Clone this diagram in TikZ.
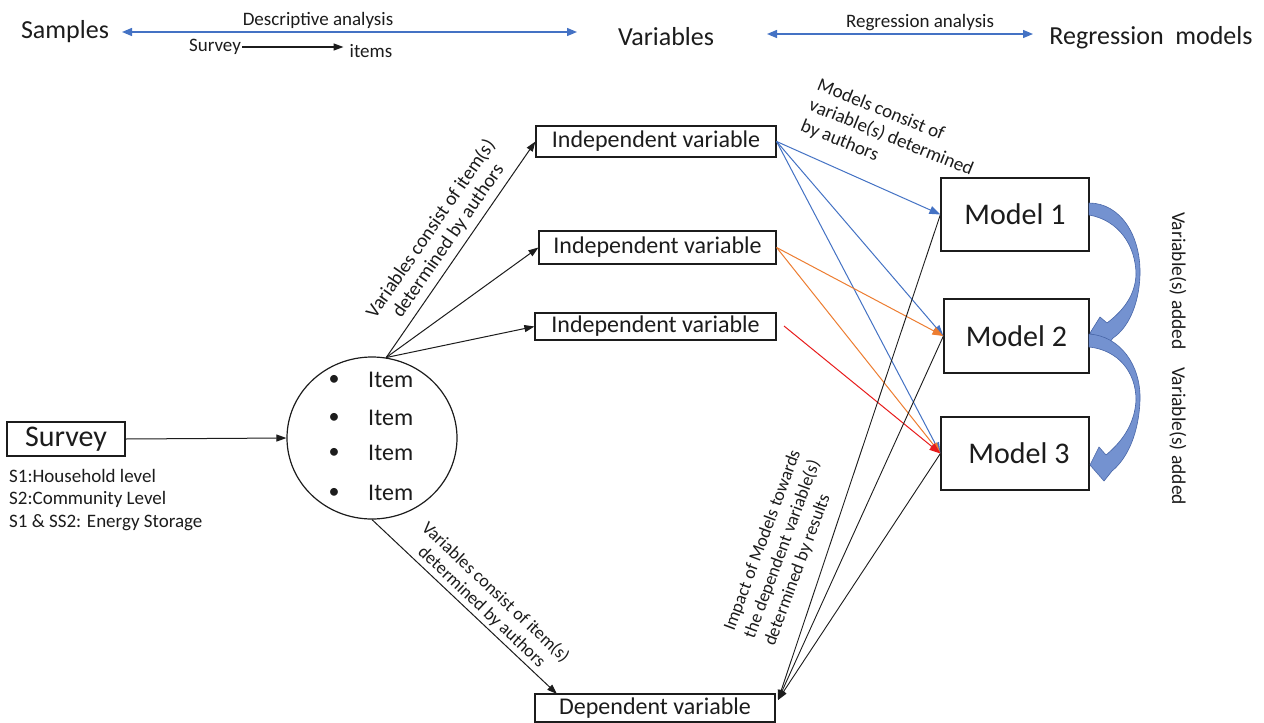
\documentclass[tikz,border=0pt]{standalone}
\usepackage{fontspec}
\setmainfont{Carlito}
\usetikzlibrary{arrows.meta,shapes.geometric}

\definecolor{ink}{RGB}{28,28,28}
\definecolor{lnblue}{RGB}{68,114,196}
\definecolor{lnorange}{RGB}{237,125,49}
\definecolor{lnred}{RGB}{232,28,28}
\definecolor{bandfill}{RGB}{116,146,208}
\definecolor{bandedge}{RGB}{72,102,168}

\tikzset{
  title/.style={text=ink, font=\fontsize{26}{30}\selectfont, inner sep=2pt},
  small/.style={text=ink, font=\fontsize{19}{22}\selectfont, inner sep=1pt},
  varbox/.style={draw=ink, line width=1.2pt, text=ink, inner sep=0pt,
                 font=\fontsize{24}{28}\selectfont},
  modelbox/.style={draw=ink, line width=1.2pt, text=ink, inner sep=0pt,
                 minimum width=148pt, minimum height=73pt,
                 font=\fontsize{30}{34}\selectfont},
  note/.style={text=ink, align=center, inner sep=1pt},
  arr/.style={draw=ink, line width=1pt, -{Triangle[length=10pt,width=7pt]}},
  carr/.style={line width=1pt, -{Triangle[length=11pt,width=8pt]}},
  topdbl/.style={draw=lnblue, line width=1.3pt,
                 {Triangle[length=10pt,width=8pt]}-{Triangle[length=10pt,width=8pt]}},
  band/.style={fill=bandfill, draw=bandedge, line width=0.6pt, line join=round},
}

\begin{document}
\begin{tikzpicture}[x=1pt,y=-1pt]
\useasboundingbox (0,0) rectangle (1264,723);
\fill[white] (0,0) rectangle (1264,723);

% ---- header row ----
\node[title] (samples) at (65,32) {Samples};
\node[title] (variables) at (666,37) {Variables};
\node[title] (regmodels) at (1151,38) {Regression\hspace{0.45em}models};
\coordinate (da1) at (122,32);
\coordinate (da2) at (577,32);
\coordinate (ra1) at (767,34);
\coordinate (ra2) at (1033,34);
\draw[topdbl] (da1) -- (da2);
\draw[topdbl] (ra1) -- (ra2);
\node[small] (desc) at (318,20) {Descriptive analysis};
\node[small] (regan) at (920,23) {Regression analysis};
\node[small] (svsmall) at (215,47) {Survey};
\node[small] (itsmall) at (371,51) {items};
\draw[arr, line width=1.3pt] (svsmall.east) -- ([xshift=-5pt]svsmall.east -| itsmall.west);

% ---- survey and items ----
\node[draw=ink, line width=1.2pt, text=ink, inner sep=0pt,
      minimum width=118pt, minimum height=34pt,
      font=\fontsize{30}{34}\selectfont] (survey) at (66,439) {Survey};
\node[anchor=west, align=left, text=ink, inner sep=0pt,
      font=\fontsize{19}{22.5}\selectfont] (levels) at (9,500)
      {S1:Household level\\S2:Community Level\\S1 \& SS2: Energy Storage};

\node[draw=ink, line width=1.2pt, ellipse, minimum width=170pt,
      minimum height=162pt, inner sep=0pt] (items) at (372,438) {};
\foreach \yy/\nn in {380/1,418/2,453/3,493/4}{
  \node[text=ink, inner sep=0pt, font=\fontsize{22}{24}\selectfont] (bul\nn) at (334,\yy) {\textbullet};
  \node[anchor=west, text=ink, inner sep=0pt, font=\fontsize{24}{28}\selectfont] (itm\nn) at (368,\yy) {Item};
}
\draw[arr] (survey.east) -- (items.west);

% ---- variables ----
\node[varbox, minimum width=240pt, minimum height=31pt] (iv1) at (656,141.5) {Independent variable};
\node[varbox, minimum width=237pt, minimum height=33pt] (iv2) at (657.5,247.5) {Independent variable};
\node[varbox, minimum width=241pt, minimum height=27pt] (iv3) at (655.5,326.5) {Independent variable};
\node[varbox, minimum width=240pt, minimum height=28pt] (dep) at (655,708) {Dependent variable};

\draw[arr] (items.80) -- node[note, sloped, above=5pt, font=\fontsize{19.5}{21}\selectfont]
  {Variables consist of item(s)\\determined by authors} (iv1.west);
\draw[arr] (items.80) -- (iv2.west);
\draw[arr] (items.80) -- (iv3.west);

\coordinate (deptop) at (557,694);
\draw[arr] (items.south) -- node[note, sloped, above=2pt, pos=0.55, font=\fontsize{18}{20}\selectfont]
  {Variables consist of item(s)\\determined by authors} (deptop);

% ---- models ----
\node[modelbox] (m1) at (1015,214.5) {Model 1};
\node[modelbox, minimum width=145pt, minimum height=74pt] (m2) at (1016.5,336) {Model 2};
\node[modelbox] (m3) at (1015,453.5) {\hspace{8pt}Model 3};

\draw[carr, lnblue] (iv1.east) -- (m1.west);
\draw[carr, lnblue] (iv1.east) -- (m2.west);
\draw[carr, lnblue] (iv1.east) -- (m3.west);
\draw[carr, lnorange] (iv2.east) -- (m2.west);
\draw[carr, lnorange] (iv2.east) -- (m3.west);
\coordinate (redstart) at (784,326);
\draw[carr, lnred] (redstart) -- (m3.west);

\coordinate (depin) at (778,700);
\draw[arr, line width=0.9pt] (m1.west) -- (depin);
\draw[arr, line width=0.9pt] (m2.west) -- (depin);
\draw[arr, line width=0.9pt] (m3.west) -- (depin);

\node[text=ink, font=\fontsize{19}{22}\selectfont, align=left, rotate=-22,
      inner sep=0pt] (mlabel) at (891,138)
  {Models consist of\\variable(s) determined\\by authors};
\node[text=ink, font=\fontsize{18}{21.5}\selectfont, align=left, rotate=69.6,
      inner sep=0pt] (implabel) at (783,548)
  {Impact of Models towards\\the dependent variable(s)\\determined by results};

% ---- curved block arrows between models ----
\draw[band] (1089,203) .. controls (1120,203) and (1141,235) .. (1140,275)
  .. controls (1139,305) and (1128,328) .. (1113,338)
  -- (1106,347) -- (1090,333) -- (1100,317) -- (1107,323)
  .. controls (1124,310) and (1135,295) .. (1136,275)
  .. controls (1136,245) and (1118,220) .. (1089,215) -- cycle;
\draw[band] (1089,334) .. controls (1120,336) and (1141,365) .. (1140,400)
  .. controls (1139,432) and (1128,458) .. (1112,471)
  -- (1104,481) -- (1090,465) -- (1099,447) -- (1106,455)
  .. controls (1124,440) and (1135,422) .. (1136,400)
  .. controls (1136,372) and (1118,350) .. (1089,347) -- cycle;

\node[text=ink, font=\fontsize{19.5}{22}\selectfont, rotate=-90, inner sep=0pt] (add1) at (1178,281) {Variable(s) added};
\node[text=ink, font=\fontsize{19.5}{22}\selectfont, rotate=-90, inner sep=0pt] (add2) at (1178,436) {Variable(s) added};

\end{tikzpicture}
\end{document}
